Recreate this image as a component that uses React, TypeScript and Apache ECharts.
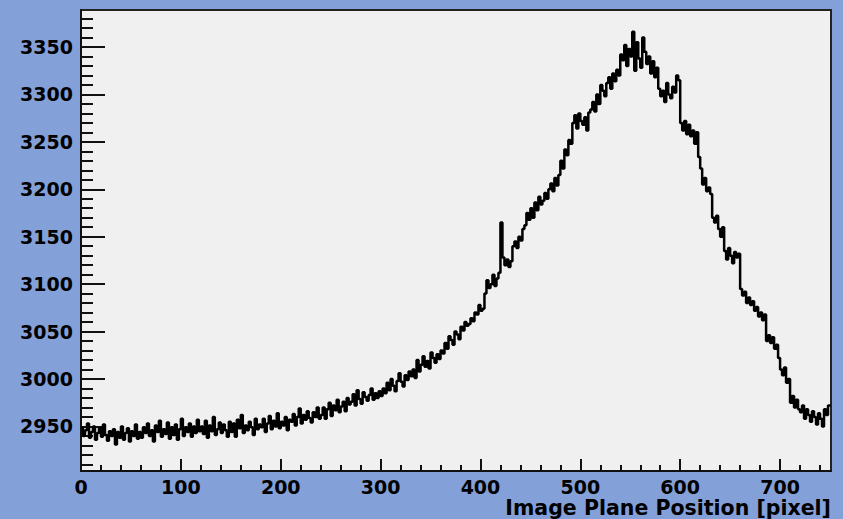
import React, { useEffect, useRef } from "react";
import * as echarts from "echarts";

// Histogram: bin width 2 px, starting at 0
const binWidth = 2;
const xMax = 751;
const counts: number[] = [
  2949, 2940, 2946, 2953, 2938, 2944, 2950, 2936, 2943, 2948, 2939, 2952, 2941, 2935, 2945,
  2940, 2947, 2931, 2944, 2938, 2950, 2936, 2943, 2948, 2934, 2945, 2940, 2952, 2937, 2944,
  2938, 2949, 2943, 2953, 2940, 2946, 2934, 2951, 2944, 2956, 2939, 2947, 2942, 2954, 2937,
  2949, 2941, 2952, 2936, 2947, 2958, 2940, 2949, 2944, 2953, 2939, 2950, 2943, 2957, 2945,
  2950, 2942, 2956, 2938, 2951, 2945, 2960, 2941, 2947, 2954, 2943, 2952, 2946, 2939, 2955,
  2944, 2953, 2939, 2957, 2948, 2962, 2943, 2951, 2946, 2955, 2949, 2941, 2958, 2947, 2952,
  2949, 2958, 2944, 2953, 2961, 2947, 2956, 2950, 2964, 2948, 2955, 2951, 2960, 2946, 2957,
  2955, 2963, 2951, 2960, 2969, 2953, 2962, 2957, 2966, 2959, 2954, 2965, 2960, 2970, 2958,
  2962, 2970, 2958, 2968, 2975, 2961, 2972, 2967, 2978, 2965, 2971, 2976, 2966, 2980, 2973,
  2976, 2984, 2972, 2988, 2979, 2974, 2986, 2981, 2977, 2983, 2990, 2978, 2985, 2980, 2987,
  2982, 2990, 2985, 2996, 2988, 3000, 2993, 2987, 2998, 3006, 2997, 2992, 3004, 2999, 3008,
  3003, 3010, 3001, 3020, 3008, 3015, 3024, 3013, 3019, 3011, 3028, 3022, 3017, 3026, 3021,
  3030, 3027, 3038, 3032, 3045, 3041, 3036, 3050, 3047, 3042, 3055, 3051, 3060, 3056, 3058,
  3064, 3061, 3070, 3068, 3078, 3072, 3074, 3090, 3104, 3096, 3100, 3110, 3098, 3106, 3112,
  3165, 3128, 3120, 3126, 3118, 3124, 3140, 3145, 3138, 3150, 3146, 3158, 3162, 3175, 3168,
  3180, 3170, 3186, 3178, 3192, 3184, 3188, 3196, 3190, 3200, 3206, 3198, 3212, 3204, 3215,
  3230, 3222, 3242, 3236, 3252, 3248, 3270, 3278, 3264, 3280, 3272, 3268, 3276, 3262, 3281,
  3284, 3292, 3282, 3300, 3290, 3310, 3304, 3298, 3312, 3318, 3306, 3322, 3314, 3326, 3320,
  3342, 3336, 3352, 3330, 3348, 3340, 3366, 3325, 3355, 3338, 3328, 3360, 3345, 3332, 3340,
  3322, 3335, 3318, 3328, 3306, 3298, 3304, 3292, 3312, 3300, 3296, 3308, 3302, 3320, 3315,
  3270, 3262, 3272, 3258, 3268, 3256, 3262, 3248, 3260, 3234, 3222, 3205, 3212, 3198, 3202,
  3195, 3170, 3165, 3172, 3158, 3150, 3160, 3135, 3126, 3138, 3130, 3122, 3134, 3128, 3132,
  3095, 3088, 3092, 3080, 3086, 3078, 3082, 3072, 3076, 3066, 3070, 3062, 3068, 3040, 3046,
  3038, 3044, 3032, 3036, 3022, 3010, 3004, 3012, 2996, 3000, 2975, 2982, 2970, 2978, 2968,
  2965, 2972, 2958, 2968, 2962, 2955, 2966, 2960, 2952, 2964, 2958, 2950, 2968, 2962, 2972,
];

const yMin = 2903;
const yMax = 3389;
const yMajorTicks = [2950, 3000, 3050, 3100, 3150, 3200, 3250, 3300, 3350];
const yMinorTicks: number[] = [
  2910, 2920, 2930, 2940, 2960, 2970, 2980, 2990, 3010, 3020, 3030, 3040,
  3060, 3070, 3080, 3090, 3110, 3120, 3130, 3140, 3160, 3170, 3180, 3190,
  3210, 3220, 3230, 3240, 3260, 3270, 3280, 3290, 3310, 3320, 3330, 3340,
  3360, 3370, 3380,
];
const xMajorTicks = [0, 100, 200, 300, 400, 500, 600, 700];
const xMinorTicks: number[] = [
  20, 40, 60, 80, 120, 140, 160, 180, 220, 240, 260, 280, 320, 340, 360, 380,
  420, 440, 460, 480, 520, 540, 560, 580, 620, 640, 660, 680, 720, 740,
];
const xTitle = "Image Plane Position [pixel]";

const FONT = "DejaVu Sans";

export default function App() {
  const ref = useRef<HTMLDivElement>(null);
  useEffect(() => {
    if (!ref.current) return;
    const chart = echarts.init(ref.current, undefined, { renderer: "svg" });
    const pts: number[][] = counts.map((v, i) => [i * binWidth, v]);
    pts.push([xMax, counts[counts.length - 1]]);
    const labelStyle = {
      fontFamily: FONT,
      fontWeight: "bold" as const,
      fontSize: 19,
      color: "#000",
    };
    chart.setOption({
      animation: false,
      backgroundColor: "#84a0d8",
      grid: {
        left: 81,
        top: 10,
        right: 12,
        bottom: 48,
        show: true,
        backgroundColor: "#f0f0f0",
        borderColor: "#222",
        borderWidth: 2,
      },
      xAxis: [
        {
          type: "value",
          min: 0,
          max: xMax,
          position: "bottom",
          axisLine: { show: true, onZero: false, lineStyle: { color: "#111", width: 2 } },
          axisTick: {
            show: true,
            inside: true,
            length: 12,
            customValues: xMajorTicks,
            lineStyle: { color: "#111", width: 2 },
          },
          axisLabel: {
            ...labelStyle,
            margin: 6,
            customValues: xMajorTicks,
            formatter: (v: number) => String(v),
          },
          splitLine: { show: false },
          name: xTitle,
          nameLocation: "end",
          nameGap: 0,
          nameTextStyle: {
            ...labelStyle,
            fontSize: 20.5,
            align: "right",
            verticalAlign: "top",
            padding: [26, 0, 0, 0],
          },
        },
        {
          type: "value",
          min: 0,
          max: xMax,
          position: "bottom",
          axisLine: { show: false, onZero: false },
          axisTick: {
            show: true,
            inside: true,
            length: 6,
            customValues: xMinorTicks,
            lineStyle: { color: "#111", width: 2 },
          },
          axisLabel: { show: false },
          splitLine: { show: false },
        },
      ],
      yAxis: [
        {
          type: "value",
          min: yMin,
          max: yMax,
          position: "left",
          axisLine: { show: true, onZero: false, lineStyle: { color: "#111", width: 2 } },
          axisTick: {
            show: true,
            inside: true,
            length: 24,
            customValues: yMajorTicks,
            lineStyle: { color: "#111", width: 2 },
          },
          axisLabel: {
            ...labelStyle,
            margin: 8,
            customValues: yMajorTicks,
            formatter: (v: number) => String(v),
          },
          splitLine: { show: false },
        },
        {
          type: "value",
          min: yMin,
          max: yMax,
          position: "left",
          axisLine: { show: false, onZero: false },
          axisTick: {
            show: true,
            inside: true,
            length: 12,
            customValues: yMinorTicks,
            lineStyle: { color: "#111", width: 2 },
          },
          axisLabel: { show: false },
          splitLine: { show: false },
        },
      ],
      series: [
        {
          type: "line",
          xAxisIndex: 0,
          yAxisIndex: 0,
          step: "end",
          symbol: "none",
          data: pts,
          lineStyle: { color: "#000", width: 2.5 },
          silent: true,
        },
      ],
    });
    return () => chart.dispose();
  }, []);
  return (
    <div
      ref={ref}
      style={{ position: "fixed", left: 0, top: 0, width: 843, height: 519 }}
    />
  );
}
